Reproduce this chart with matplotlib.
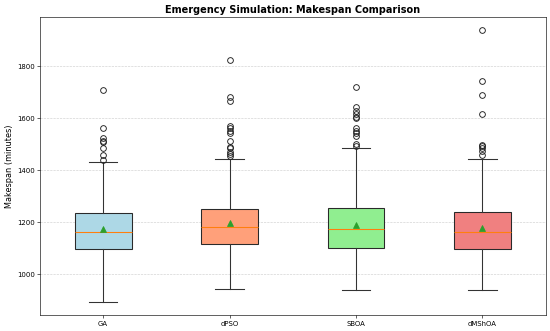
import matplotlib
matplotlib.use("Agg")
import matplotlib.pyplot as plt

algorithms = ["GA", "dPSO", "SBOA", "dMShOA"]
box_colors = ["lightblue", "lightsalmon", "lightgreen", "lightcoral"]

q1 = [1098, 1115, 1100, 1097]
median = [1161, 1179, 1174, 1161]
q3 = [1235, 1250, 1254, 1240]
mean = [1173, 1196, 1187, 1178]
whisker_low = [893, 943, 938, 938]
whisker_high = [1431, 1444, 1485, 1443]

fliers_ga = [1710, 1564, 1523, 1514, 1508, 1487, 1460, 1438]
fliers_dpso = [1825, 1681, 1666, 1570, 1561, 1552, 1542, 1514, 1491, 1486, 1469, 1461, 1456]
fliers_sboa = [1719, 1642, 1629, 1616, 1606, 1601, 1561, 1551, 1542, 1533, 1501, 1493]
fliers_dmshoa = [1938, 1742, 1691, 1615, 1497, 1493, 1487, 1472, 1458]
fliers = [fliers_ga, fliers_dpso, fliers_sboa, fliers_dmshoa]

stats = []
for i, name in enumerate(algorithms):
    stats.append(dict(label=name, med=median[i], q1=q1[i], q3=q3[i],
                      whislo=whisker_low[i], whishi=whisker_high[i],
                      mean=mean[i], fliers=fliers[i]))

fig, ax = plt.subplots(figsize=(10, 6.02), dpi=55)
lw = 1.4
bp = ax.bxp(stats, showmeans=True, patch_artist=True, widths=0.45,
            boxprops=dict(linewidth=lw, edgecolor="#2a2a2a"),
            whiskerprops=dict(linewidth=lw, color="#333333"),
            capprops=dict(linewidth=lw, color="#333333"),
            medianprops=dict(linewidth=1.4, color="#ff7f0e"),
            meanprops=dict(marker="^", markerfacecolor="#2ca02c", markeredgecolor="#2ca02c", markersize=7),
            flierprops=dict(marker="o", markerfacecolor="none", markeredgecolor="#222222",
                            markersize=7.5, markeredgewidth=1.2))
for patch, c in zip(bp["boxes"], box_colors):
    patch.set_facecolor(c)

ax.set_title("Emergency Simulation: Makespan Comparison", fontsize=12.8, fontweight="bold", pad=5)
ax.set_ylabel("Makespan (minutes)", fontsize=10.6)
ax.tick_params(labelsize=9)
ax.yaxis.grid(True, linestyle="--", alpha=0.6)
ax.set_axisbelow(True)

fig.subplots_adjust(left=40/550, right=545.5/550, top=1-17/331, bottom=1-315.3/331)
fig.savefig("out.png", dpi=55)
